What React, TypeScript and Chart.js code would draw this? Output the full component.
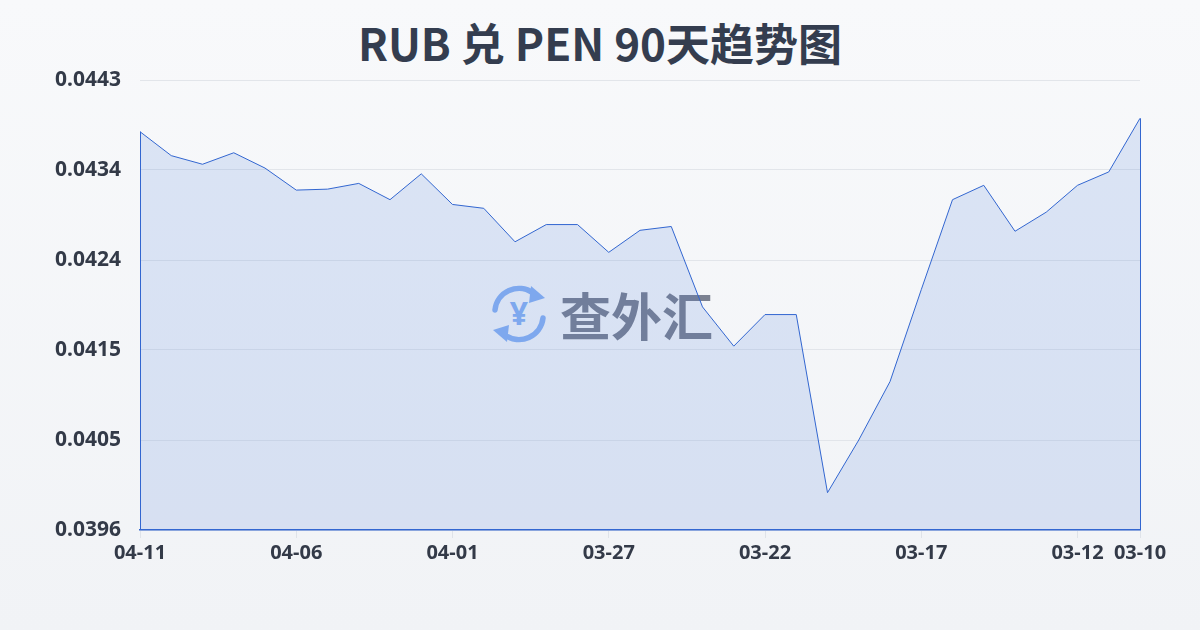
import { useEffect, useRef } from "react";
import { Chart, registerables } from "chart.js";

Chart.register(...registerables);

// dates run backwards, newest first (as in the source chart)
const DATES: string[] = [
  "04-11", "04-10", "04-09", "04-08", "04-07", "04-06", "04-05", "04-04",
  "04-03", "04-02", "04-01", "03-31", "03-30", "03-29", "03-28", "03-27",
  "03-26", "03-25", "03-24", "03-23", "03-22", "03-21", "03-20", "03-19",
  "03-18", "03-17", "03-16", "03-15", "03-14", "03-13", "03-12", "03-11",
  "03-10",
];

const RATES: number[] = [
  0.04376, 0.04351, 0.04342, 0.04354, 0.04338, 0.04315, 0.04316, 0.04322,
  0.04305, 0.04332, 0.043, 0.04296, 0.04261, 0.04279, 0.04279, 0.0425,
  0.04273, 0.04277, 0.04193, 0.04152, 0.04185, 0.04185, 0.03999, 0.04054,
  0.04115, 0.04211, 0.04305, 0.0432, 0.04272, 0.04292, 0.0432, 0.04334,
  0.0439,
];

const Y_MIN = 0.0396;
const Y_MAX = 0.0443;
const Y_STEPS = 5;

const LINE = "#3266d0";
const LABEL = "#333a48";

// strokes the left / right edges of the area down to the axis
const areaEdges = {
  id: "areaEdges",
  afterDatasetsDraw(chart: Chart) {
    const pts = chart.getDatasetMeta(0).data;
    if (!pts.length) return;
    const { ctx, chartArea } = chart;
    ctx.save();
    ctx.strokeStyle = LINE;
    ctx.lineWidth = 1;
    ctx.beginPath();
    for (const p of [pts[0], pts[pts.length - 1]]) {
      ctx.moveTo(Math.round(p.x) + 0.5, p.y);
      ctx.lineTo(Math.round(p.x) + 0.5, chartArea.bottom);
    }
    ctx.stroke();
    ctx.restore();
  },
};

function Watermark() {
  const c = "#8ab2f2";
  return (
    <div
      style={{
        position: "absolute",
        left: 489,
        top: 284,
        display: "flex",
        alignItems: "center",
        gap: 11,
      }}
    >
      <svg width="60" height="60" viewBox="0 0 60 60">
        <g fill="none" stroke={c} strokeWidth="5.5" strokeLinecap="round">
          <path d="M6 26 A24 24 0 0 1 44 9" />
          <path d="M54 34 A24 24 0 0 1 16 51" />
        </g>
        <polygon points="42,2 56,14 40,19" fill={c} />
        <polygon points="18,58 4,46 20,41" fill={c} />
        <text
          x="30"
          y="41"
          textAnchor="middle"
          fontSize="32"
          fontWeight="700"
          fill={c}
          fontFamily="'Noto Sans'"
        >
          ¥
        </text>
      </svg>
      <span
        style={{
          fontFamily: "'Noto Sans CJK SC'",
          fontWeight: 700,
          fontSize: 51,
          color: "#7b8191",
          lineHeight: 1,
        }}
      >
        查外汇
      </span>
    </div>
  );
}

export default function App() {
  const canvasRef = useRef<HTMLCanvasElement>(null);

  useEffect(() => {
    if (!canvasRef.current) return;
    const chart = new Chart(canvasRef.current, {
      type: "line",
      data: {
        labels: DATES,
        datasets: [
          {
            data: RATES,
            borderColor: LINE,
            borderWidth: 1,
            backgroundColor: "rgba(59,111,212,0.15)",
            fill: "start",
            pointRadius: 0,
            tension: 0,
          },
        ],
      },
      options: {
        responsive: false,
        animation: false,
        layout: { padding: { top: 80, right: 60, left: 0, bottom: 0 } },
        plugins: {
          legend: { display: false },
          tooltip: { enabled: false },
        },
        scales: {
          x: {
            border: { display: true, color: LINE, width: 1.5 },
            grid: {
              drawOnChartArea: false,
              drawTicks: true,
              tickLength: 8,
              color: "#dfe3e9",
            },
            ticks: {
              autoSkip: false,
              maxRotation: 0,
              padding: 3,
              color: LABEL,
              font: { family: "'Noto Sans'", size: 20, weight: "bold" },
              callback: (_v, i) =>
                i % 5 === 0 || i === DATES.length - 1 ? DATES[i] : null,
            },
            afterFit: (s: any) => {
              s.height = 100;
            },
          },
          y: {
            min: Y_MIN,
            max: Y_MAX,
            border: { display: false },
            grid: { color: "#e2e5ea", drawTicks: false },
            afterBuildTicks: (s: any) => {
              const step = (Y_MAX - Y_MIN) / Y_STEPS;
              s.ticks = Array.from({ length: Y_STEPS + 1 }, (_, k) => ({
                value: Y_MIN + step * k,
              }));
            },
            ticks: {
              padding: 19,
              color: LABEL,
              font: { family: "'Noto Sans'", size: 21, weight: "bold" },
              callback: (v) => Number(v).toFixed(4),
            },
            afterFit: (s: any) => {
              s.width = 140;
            },
          },
        },
      },
      plugins: [areaEdges],
    });
    return () => chart.destroy();
  }, []);

  return (
    <div
      style={{
        position: "fixed",
        left: 0,
        top: 0,
        width: 1200,
        height: 630,
        background: "linear-gradient(#f8f9fb, #f1f3f6)",
      }}
    >
      <div
        style={{
          position: "absolute",
          left: 0,
          top: 14,
          width: 1200,
          textAlign: "center",
          fontFamily: "'Noto Sans CJK SC'",
          fontWeight: 700,
          fontSize: 44,
          lineHeight: "56px",
          color: "#343d4f",
        }}
      >
        RUB 兑 PEN 90天趋势图
      </div>
      <Watermark />
      <canvas
        ref={canvasRef}
        width={1200}
        height={630}
        style={{ position: "absolute", left: 0, top: 0 }}
      />
    </div>
  );
}
